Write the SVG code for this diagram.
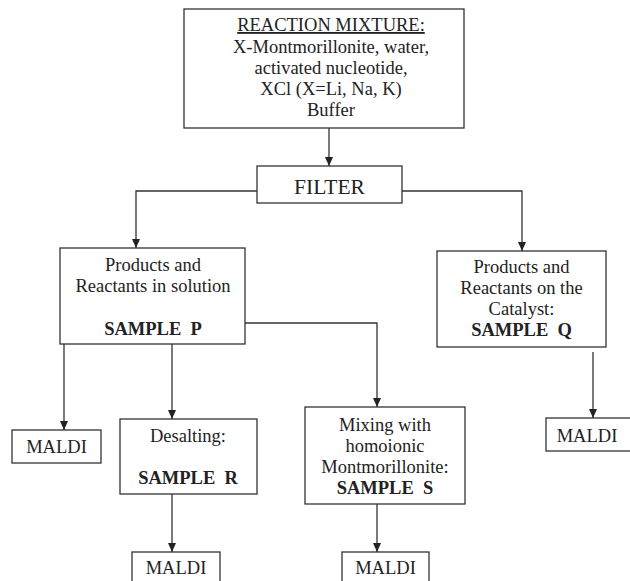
<svg xmlns="http://www.w3.org/2000/svg" width="630" height="581" viewBox="0 0 630 581">
<defs>
<marker id="ah" markerUnits="userSpaceOnUse" markerWidth="9" markerHeight="8" refX="9" refY="4" orient="auto" viewBox="0 0 9 8">
<path d="M0,0 L9,4 L0,8 Z" fill="#222"/>
</marker>
<style>
.box{fill:#fff;stroke:#333;stroke-width:1.3}
.t{font-family:"Liberation Serif","Times New Roman",serif;font-size:18.5px;fill:#222;text-anchor:middle}
.b{font-weight:bold}
.c{fill:none;stroke:#333;stroke-width:1.3}
</style>
</defs>
<rect width="630" height="581" fill="#fff"/>
<g id="connectors">
<path class="c" d="M329,128 V166" marker-end="url(#ah)"/>
<path class="c" d="M257,191 H136 V248" marker-end="url(#ah)"/>
<path class="c" d="M402,191 H522 V251" marker-end="url(#ah)"/>
<path class="c" d="M245,323 H377 V407" marker-end="url(#ah)"/>
<path class="c" d="M64,344 V430" marker-end="url(#ah)"/>
<path class="c" d="M172,344 V419" marker-end="url(#ah)"/>
<path class="c" d="M172,494 V552" marker-end="url(#ah)"/>
<path class="c" d="M377,504 V552" marker-end="url(#ah)"/>
<path class="c" d="M593,352 V418" marker-end="url(#ah)"/>
</g>
<g id="reaction">
<rect class="box" x="184" y="9" width="280" height="119"/>
<text class="t" x="331" y="31" text-decoration="underline">REACTION MIXTURE:</text>
<text class="t" x="331" y="52.5">X-Montmorillonite, water,</text>
<text class="t" x="331" y="73.5">activated nucleotide,</text>
<text class="t" x="331" y="95">XCl (X=Li, Na, K)</text>
<text class="t" x="331" y="116">Buffer</text>
</g>
<g id="filter">
<rect class="box" x="257" y="166" width="145" height="37"/>
<text class="t" x="329.5" y="194" style="font-size:21.5px">FILTER</text>
</g>
<g id="sampleP">
<rect class="box" x="60" y="248" width="185" height="96"/>
<text class="t" x="153" y="271">Products and</text>
<text class="t" x="153" y="292">Reactants in solution</text>
<text class="t b" x="153" y="335" xml:space="preserve">SAMPLE  P</text>
</g>
<g id="sampleQ">
<rect class="box" x="437" y="251" width="169" height="96"/>
<text class="t" x="521.5" y="273">Products and</text>
<text class="t" x="521.5" y="294">Reactants on the</text>
<text class="t" x="521.5" y="315">Catalyst:</text>
<text class="t b" x="521.5" y="336" xml:space="preserve">SAMPLE  Q</text>
</g>
<g id="sampleS">
<rect class="box" x="305" y="407" width="160" height="97"/>
<text class="t" x="385" y="431">Mixing with</text>
<text class="t" x="385" y="452">homoionic</text>
<text class="t" x="385" y="473">Montmorillonite:</text>
<text class="t b" x="385" y="494" xml:space="preserve">SAMPLE  S</text>
</g>
<g id="sampleR">
<rect class="box" x="120" y="419" width="137" height="75"/>
<text class="t" x="188" y="442">Desalting:</text>
<text class="t b" x="188" y="484" xml:space="preserve">SAMPLE  R</text>
</g>
<g id="maldiP">
<rect class="box" x="12" y="430" width="89" height="33"/>
<text class="t" x="56.5" y="453">MALDI</text>
</g>
<g id="maldiR">
<rect class="box" x="132" y="552" width="88" height="40"/>
<text class="t" x="176" y="574">MALDI</text>
</g>
<g id="maldiS">
<rect class="box" x="342" y="552" width="87" height="40"/>
<text class="t" x="385.5" y="574">MALDI</text>
</g>
<g id="maldiQ">
<rect class="box" x="546" y="418" width="86" height="33"/>
<text class="t" x="587" y="442">MALDI</text>
</g>
</svg>
